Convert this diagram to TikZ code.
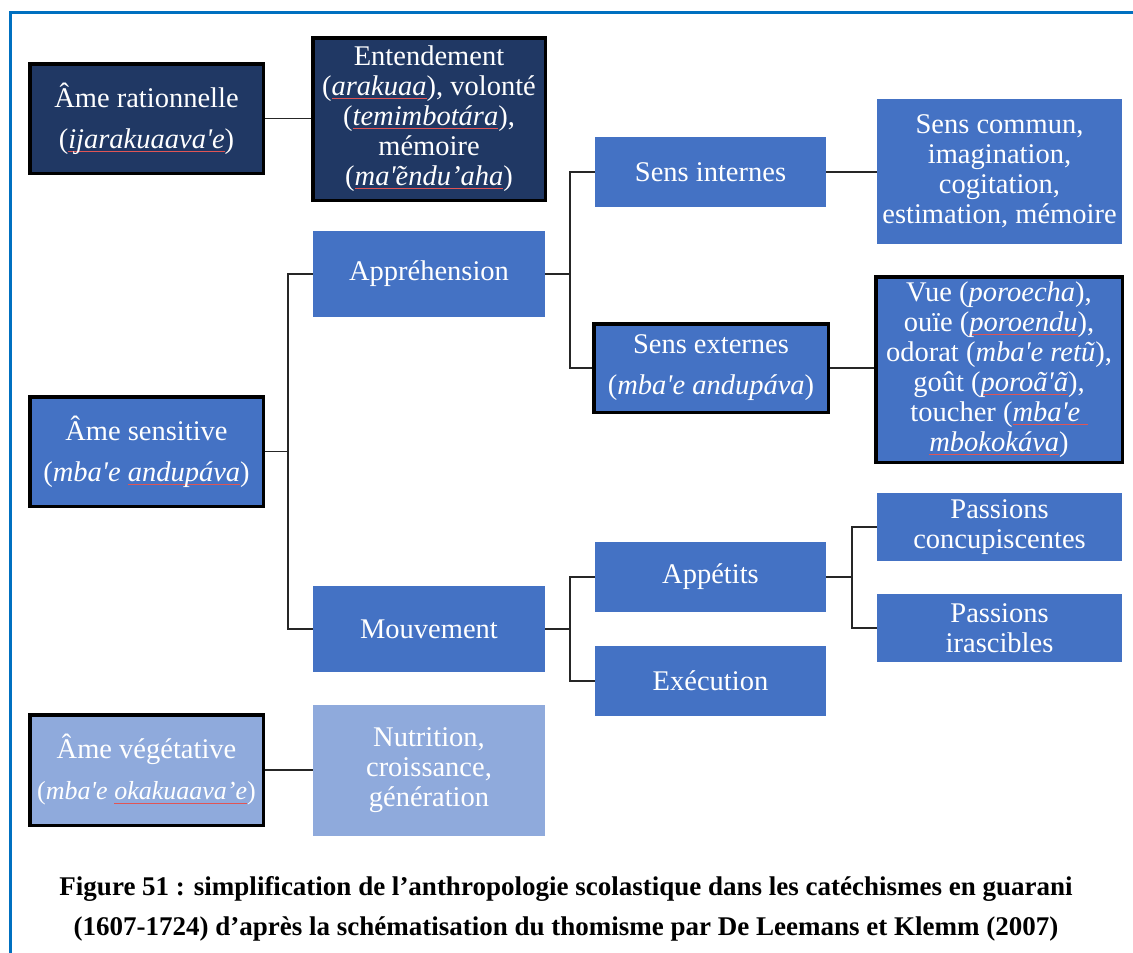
\documentclass[tikz,border=0pt]{standalone}
\usepackage{fontspec}
\newfontfamily\bxfont{Liberation Serif}
\definecolor{navy}{HTML}{203864}
\definecolor{midblue}{HTML}{4472C4}
\definecolor{lightblue}{HTML}{8FAADC}
\definecolor{framecol}{HTML}{0070C0}
\definecolor{spellred}{HTML}{E05555}
\newcommand\spell[1]{\setbox0\hbox{#1}\leavevmode\rlap{\textcolor{spellred}{\rule[-3.5pt]{\wd0}{0.9pt}}}\box0}
\newcommand\gi[1]{\textit{#1}}
\begin{document}
\begin{tikzpicture}[x=1pt,y=-1pt,
  box/.style={rectangle, inner sep=0pt, text=white, align=center,
    font=\bxfont\fontsize{28.5}{30}\selectfont},
  wide/.style={font=\bxfont\fontsize{28.5}{41}\selectfont},
  dark/.style={box, fill=navy},
  mid/.style={box, fill=midblue},
  light/.style={box, fill=lightblue},
  bord/.style={draw=black, line width=3.5pt},
  conn/.style={draw=black!85, line width=1.3pt},
  captext/.style={align=center, font=\bxfont\bfseries\fontsize{27}{40}\selectfont}]
\useasboundingbox (0,0) rectangle (1133,953);
\draw[framecol, line width=2.2pt] (1133,12.5) -- (10.5,12.5) -- (10.5,953);

% rational soul
\node[dark, bord, wide, minimum width=233.5pt, minimum height=109.5pt] (rat) at (146.5,118.5)
  {Âme rationnelle\\(\gi{\spell{ijarakuaava'e}})};
\node[dark, bord, minimum width=232.5pt, minimum height=162.5pt] (ent) at (429,119)
  {Entendement\\(\gi{\spell{arakuaa}}), volonté\\(\gi{\spell{temimbotára}}),\\mémoire\\(\gi{\spell{ma'̃endu’aha}})};

% sensitive soul
\node[mid, bord, wide, minimum width=233.5pt, minimum height=109.5pt] (sens) at (146.5,451.5)
  {Âme sensitive\\(\gi{mba'e \spell{andupáva}})};
\node[mid, minimum width=232pt, minimum height=86pt] (appr) at (429,274) {Appréhension};
\node[mid, minimum width=232pt, minimum height=86pt] (mouv) at (429,629) {Mouvement};
\node[mid, minimum width=231pt, minimum height=70pt] (sint) at (710.5,172) {Sens internes};
\node[mid, bord, wide, minimum width=234.5pt, minimum height=88.5pt] (sext) at (711,368)
  {Sens externes\\(\gi{mba'e andupáva})};
\node[mid, minimum width=245pt, minimum height=145pt] (scom) at (999.5,171.5)
  {Sens commun,\\imagination,\\cogitation,\\estimation, mémoire};
\node[mid, bord, minimum width=246.5pt, minimum height=185.5pt] (vue) at (999,369.5)
  {Vue (\gi{poroecha}),\\ouïe (\gi{\spell{poroendu}}),\\odorat (\gi{mba'e retũ}),\\goût (\gi{\spell{poroã'ã}}),\\toucher (\gi{\spell{mba'e\ }}\\\gi{\spell{mbokokáva}})};
\node[mid, minimum width=231pt, minimum height=70pt] (appe) at (710.5,577) {Appétits};
\node[mid, minimum width=231pt, minimum height=70pt] (exec) at (710.5,681) {Exécution};
\node[mid, minimum width=245pt, minimum height=68pt] (pconc) at (999.5,527) {Passions\\concupiscentes};
\node[mid, minimum width=245pt, minimum height=68pt] (piras) at (999.5,628) {Passions\\irascibles};

% vegetative soul
\node[light, bord, wide, minimum width=233.5pt, minimum height=110.5pt] (veg) at (146.5,770)
  {Âme végétative\\{\fontsize{26}{41}\selectfont(\gi{mba'e \spell{okakuaava’e}})}};
\node[light, minimum width=232pt, minimum height=131pt] (nutr) at (429,770.5)
  {Nutrition,\\croissance,\\génération};

% junctions
\coordinate (j0) at (288,451.5);
\coordinate (j1) at (570,274);
\coordinate (j2) at (570,629);
\coordinate (j3) at (852,577);

% connectors
\draw[conn] (rat.east) -- (rat.east -| ent.west);
\draw[conn] (sint.east) -- (sint.east -| scom.west);
\draw[conn] (sext.east) -- (sext.east -| vue.west);
\draw[conn] (veg.east) -- (veg.east -| nutr.west);
\draw[conn] (sens.east) -- (j0);
\draw[conn] (appr.west) -| (j0) |- (mouv.west);
\draw[conn] (appr.east) -- (j1);
\draw[conn] (sint.west) -| (j1) |- (sext.west);
\draw[conn] (mouv.east) -- (j2);
\draw[conn] (appe.west) -| (j2) |- (exec.west);
\draw[conn] (appe.east) -- (j3);
\draw[conn] (pconc.west) -| (j3) |- (piras.west);

% caption
\node[captext] (caption) at (566,909)
  {Figure 51 : simplification de l’anthropologie scolastique dans les catéchismes en guarani\\(1607-1724) d’après la schématisation du thomisme par De Leemans et Klemm (2007)};
\end{tikzpicture}
\end{document}
